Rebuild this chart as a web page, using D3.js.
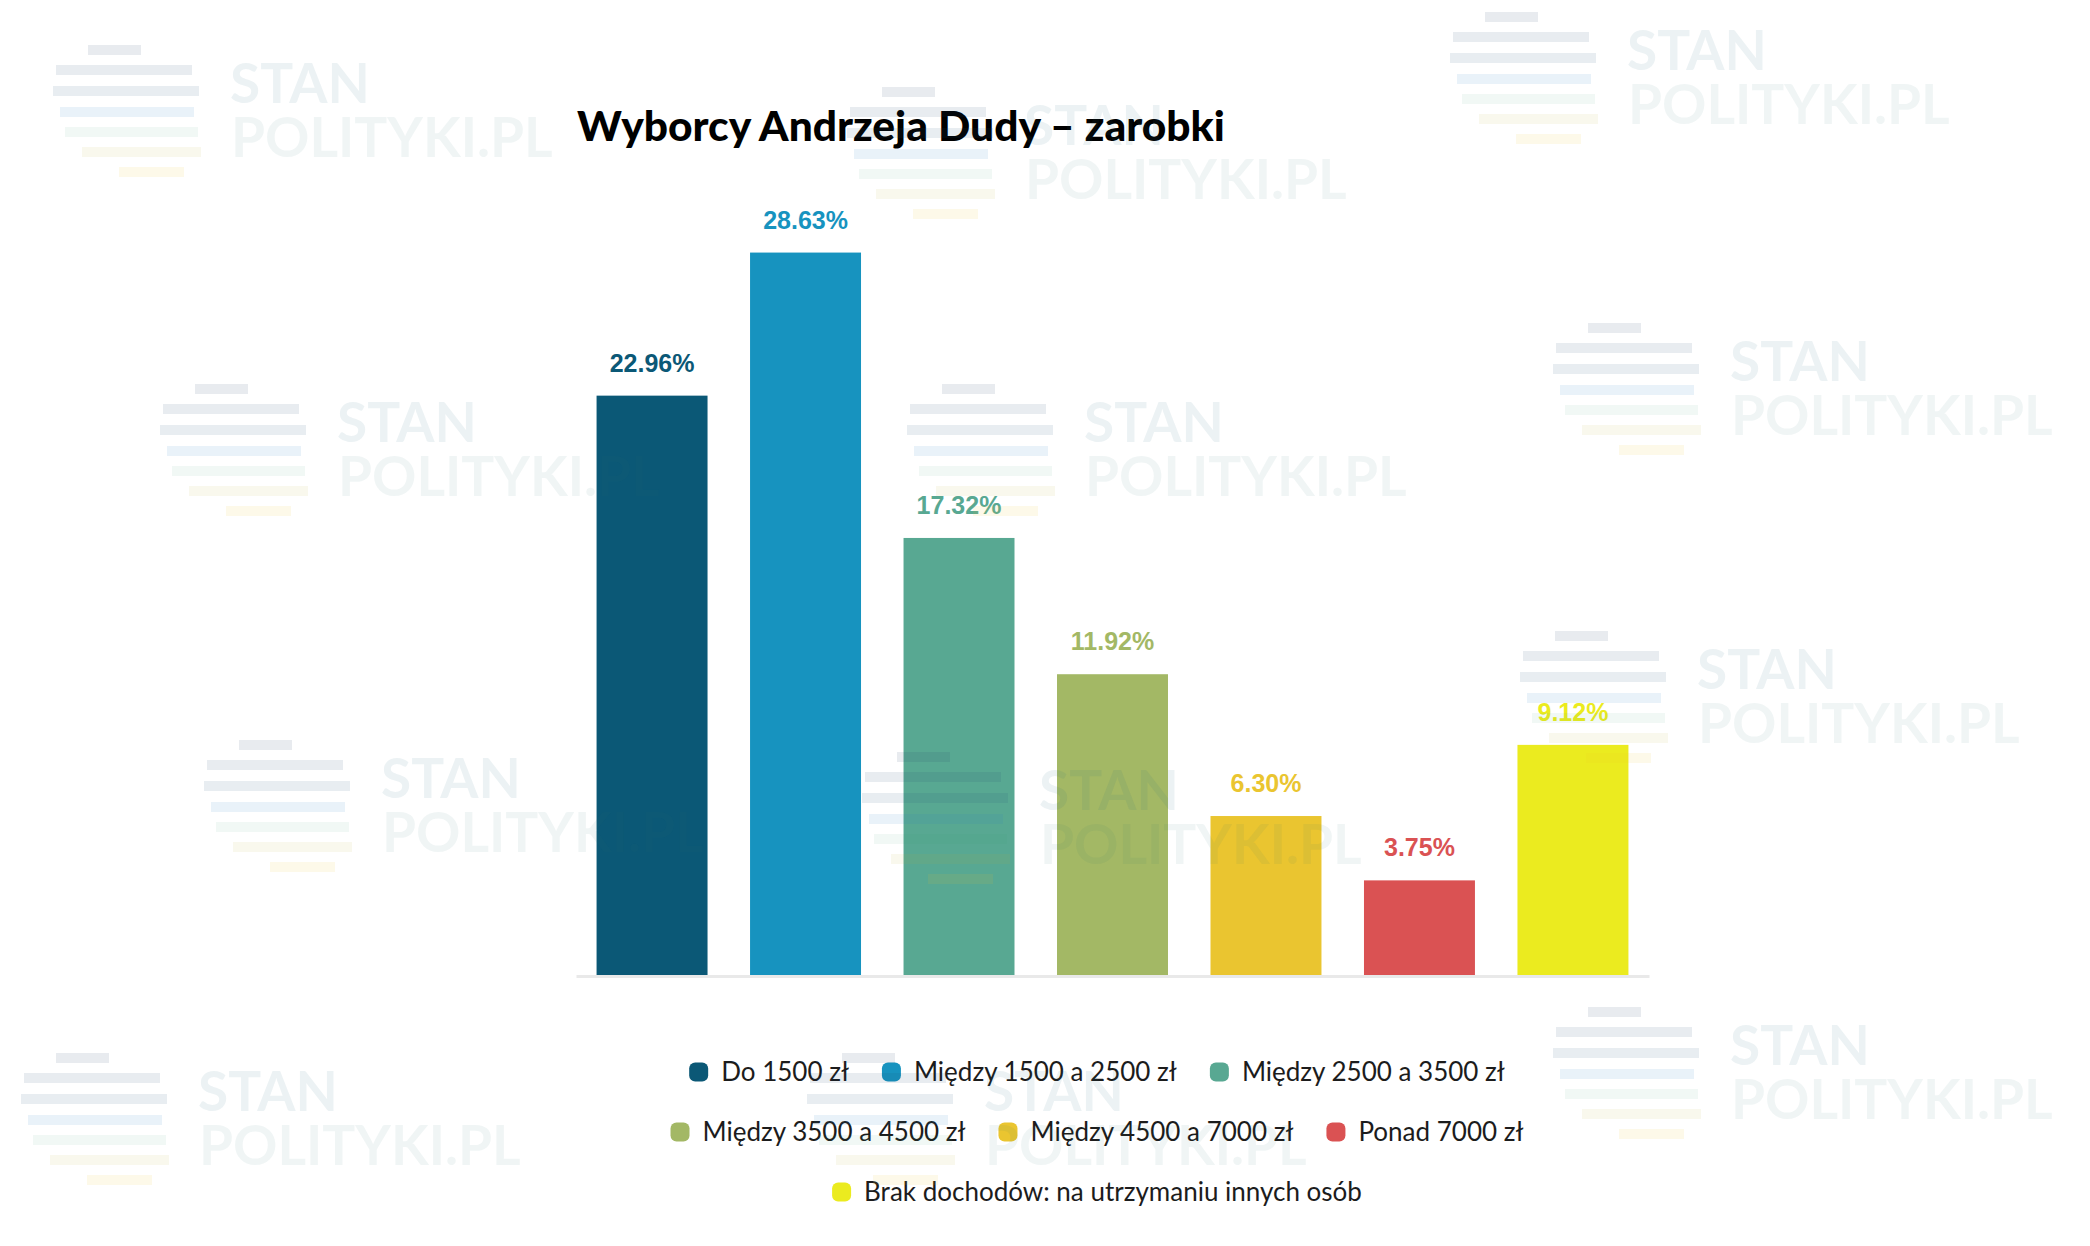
<!DOCTYPE html>
<html>
<head>
<meta charset="utf-8">
<script src="https://cdn.jsdelivr.net/npm/d3@7"></script>
<style>
  html, body { margin: 0; padding: 0; background: #ffffff; }
  svg { display: block; }
</style>
</head>
<body>
<svg id="chart" width="2090" height="1246"></svg>
<script>
// ---- data ----
const categories = [
  "Do 1500 zł",
  "Między 1500 a 2500 zł",
  "Między 2500 a 3500 zł",
  "Między 3500 a 4500 zł",
  "Między 4500 a 7000 zł",
  "Ponad 7000 zł",
  "Brak dochodów: na utrzymaniu innych osób"
];
const values = [22.96, 28.63, 17.32, 11.92, 6.30, 3.75, 9.12];
const valueLabels = ["22.96%", "28.63%", "17.32%", "11.92%", "6.30%", "3.75%", "9.12%"];
const colors = ["#0b5876", "#1793bf", "#58a892", "#a3b865", "#eac530", "#da5253", "#ebeb1f"];
const legendRows = [[0, 1, 2], [3, 4, 5], [6]];
const titleText = "Wyborcy Andrzeja Dudy – zarobki";

// watermark placement (decoration, not data)
const watermarkOrigins = [
  [53, 45], [847, 87], [1450, 12],
  [160, 384], [907, 384], [1553, 323],
  [204, 740], [862, 752], [1520, 631],
  [21, 1053], [807, 1053], [1553, 1007]
];

const svg = d3.select("#chart");

// ---- scales ----
const x = d3.scaleBand()
  .domain(categories)
  .range([576, 1649])
  .paddingInner(0.277)
  .paddingOuter(0.134);

const y = d3.scaleLinear()
  .domain([0, 30])
  .range([975, 218]);

// ---- title ----
svg.append("text")
  .attr("x", 577)
  .attr("y", 141)
  .attr("font-family", "Lato, 'Noto Sans', sans-serif")
  .attr("font-weight", 900)
  .attr("font-size", 42.5)
  .attr("fill", "#000")
  .text(titleText);

// ---- bars ----
const data = categories.map((c, i) => ({ c, v: values[i], label: valueLabels[i], color: colors[i] }));

svg.append("g").selectAll("rect")
  .data(data)
  .join("rect")
  .attr("x", d => x(d.c))
  .attr("y", d => y(d.v))
  .attr("width", x.bandwidth())
  .attr("height", d => y(0) - y(d.v))
  .attr("fill", d => d.color);

// ---- axis line ----
const axis = svg.append("g")
  .attr("transform", `translate(0,${y(0) + 1})`)
  .call(d3.axisBottom(x).tickSize(0).tickSizeOuter(0).tickFormat(""));
axis.select(".domain").attr("stroke", "#e9e9e9").attr("stroke-width", 3);
axis.selectAll(".tick").remove();

// ---- value labels ----
svg.append("g").selectAll("text")
  .data(data)
  .join("text")
  .attr("x", d => x(d.c) + x.bandwidth() / 2)
  .attr("y", d => y(d.v) - 24)
  .attr("text-anchor", "middle")
  .attr("font-family", "'Liberation Sans', Arial, sans-serif")
  .attr("font-weight", 700)
  .attr("font-size", 25)
  .attr("fill", d => d.color)
  .text(d => d.label);

// ---- legend ----
const legend = svg.append("g");
const rowY = [1072, 1132, 1192];
const centerX = 1097;
const markerSize = 19, markerGap = 13, itemGap = 33;
legendRows.forEach((row, ri) => {
  const g = legend.append("g");
  let cx = 0;
  row.forEach((idx, k) => {
    const item = g.append("g").attr("transform", `translate(${cx},0)`);
    item.append("rect")
      .attr("x", 0).attr("y", -markerSize / 2)
      .attr("width", markerSize).attr("height", markerSize)
      .attr("rx", 6).attr("ry", 6)
      .attr("fill", colors[idx]);
    const t = item.append("text")
      .attr("x", markerSize + markerGap)
      .attr("y", 0)
      .attr("dy", "0.36em")
      .attr("font-family", "Lato, 'Noto Sans', sans-serif")
      .attr("font-size", 26)
      .attr("fill", "#1c1c1c")
      .text(categories[idx]);
    const w = t.node().getComputedTextLength();
    cx += markerSize + markerGap + w + (k < row.length - 1 ? itemGap : 0);
  });
  g.attr("transform", `translate(${centerX - cx / 2},${rowY[ri]})`);
});

// ---- watermarks ----
const wmBars = [
  [35, 0, 53, "rgba(30,60,100,0.10)"],
  [3, 20, 136, "rgba(30,70,110,0.10)"],
  [0, 41, 146, "rgba(30,80,120,0.10)"],
  [7, 62, 134, "rgba(40,130,200,0.10)"],
  [12, 82, 133, "rgba(60,150,120,0.07)"],
  [29, 102, 119, "rgba(190,180,60,0.09)"],
  [66, 122, 65, "rgba(240,200,40,0.10)"]
];
const wm = svg.append("g").attr("pointer-events", "none");
watermarkOrigins.forEach(([ox, oy]) => {
  const g = wm.append("g").attr("transform", `translate(${ox},${oy})`);
  wmBars.forEach(([bx, by, bw, col]) => {
    g.append("rect").attr("x", bx).attr("y", by).attr("width", bw).attr("height", 10).attr("fill", col);
  });
  g.append("text").attr("x", 177).attr("y", 58)
    .attr("font-family", "Lato, sans-serif").attr("font-weight", 700).attr("font-size", 55)
    .attr("fill", "rgba(40,100,130,0.085)").text("STAN");
  g.append("text").attr("x", 178).attr("y", 112)
    .attr("font-family", "Lato, sans-serif").attr("font-weight", 700).attr("font-size", 55)
    .attr("fill", "rgba(40,110,120,0.07)").text("POLITYKI.PL");
});
</script>
</body>
</html>
